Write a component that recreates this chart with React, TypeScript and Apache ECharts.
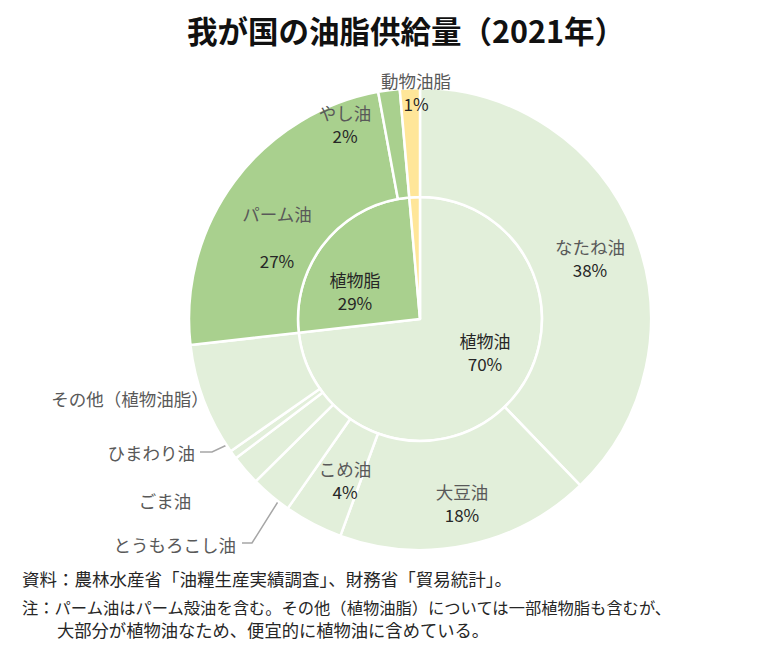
import React, { useEffect, useRef } from "react";
import * as echarts from "echarts";

const chartTitle = "我が国の油脂供給量（2021年）";

const innerNames = ["植物油", "植物脂", "動物油脂"];
const innerValues = [73.2, 25.4, 1.4];
const innerPctLabels = ["70%", "29%", ""];

const outerNames = [
  "なたね油",
  "大豆油",
  "こめ油",
  "とうもろこし油",
  "ごま油",
  "ひまわり油",
  "その他（植物油脂）",
  "パーム油",
  "やし油",
  "動物油脂",
];
const outerValues = [37.8, 17.8, 4.1, 2.9, 2.1, 0.6, 7.9, 23.9, 1.5, 1.4];
const outerPctLabels = ["38%", "18%", "4%", "", "", "", "", "27%", "2%", "1%"];

const noteLines = [
  "資料：農林水産省「油糧生産実績調査」、財務省「貿易統計」。",
  "注：パーム油はパーム殻油を含む。その他（植物油脂）については一部植物脂も含むが、",
  "大部分が植物油なため、便宜的に植物油に含めている。",
];

const LIGHT = "#E2EFDA";
const MID = "#A9D08E";
const YELLOW = "#FFE699";
const outerColors = [LIGHT, LIGHT, LIGHT, LIGHT, LIGHT, LIGHT, LIGHT, MID, MID, YELLOW];
const innerColors = [LIGHT, MID, YELLOW];

const FONT = "'Noto Sans CJK JP', 'Noto Sans', sans-serif";

// label placement (layout only)
const outerLabelLayout: Record<number, any> = {
  0: { x: 590, y: 258, align: "center" },
  1: { x: 462, y: 503, align: "center" },
  2: { x: 345, y: 480, align: "center" },
  3: { x: 236, y: 544, align: "right", line: [[308, 454], [252, 543], [242, 543]] },
  4: { x: 165, y: 500, align: "center" },
  5: { x: 195, y: 452, align: "right", line: [[278, 421], [212, 452], [200, 452]] },
  6: { x: 130, y: 398, align: "center" },
  7: { x: 277, y: 237, align: "center" },
  8: { x: 345, y: 124, align: "center", line: [[398, 146], [387, 113], [377, 113]] },
  9: { x: 416, y: 92, align: "center" },
};
const innerLabelLayout: Record<number, any> = {
  0: { x: 485, y: 352, align: "center" },
  1: { x: 355, y: 291, align: "center" },
};
const outsideIdx = [3, 4, 5, 6, 8, 9];
const lineIdx = [3, 5, 8];

export default function App() {
  const ref = useRef<HTMLDivElement>(null);
  useEffect(() => {
    document.body.style.margin = "0";
    if (!ref.current) return;
    const chart = echarts.init(ref.current, undefined, { renderer: "svg" });

    const outerData = outerNames.map((name, i) => ({
      name,
      value: outerValues[i],
      itemStyle: { color: outerColors[i] },
      label: { position: outsideIdx.includes(i) ? "outside" : "inside" },
      labelLine: {
        show: lineIdx.includes(i),
        lineStyle: { color: "#A6A6A6", width: 1.5 },
      },
    }));
    const innerData = innerNames.map((name, i) => ({
      name,
      value: innerValues[i],
      itemStyle: { color: innerColors[i] },
      label: { show: innerPctLabels[i] !== "" },
    }));

    const rich = {
      n: { fontFamily: FONT, fontSize: 17.5, color: "#595959", lineHeight: 23 },
      p: { fontFamily: FONT, fontSize: 17, color: "#262626", lineHeight: 24 },
      d: { fontFamily: FONT, fontSize: 17, color: "#262626", lineHeight: 23 },
      e: { fontFamily: FONT, fontSize: 17, color: "#262626", lineHeight: 23 },
      g: { fontSize: 17, lineHeight: 23 },
    };

    chart.setOption({
      animation: false,
      title: {
        text: chartTitle,
        left: 182,
        top: 10,
        textStyle: { fontFamily: FONT, fontSize: 30.5, fontWeight: "bold", color: "#111" },
      },
      series: [
        {
          type: "pie",
          name: "inner",
          center: [420, 319],
          radius: [0, 122],
          startAngle: 90,
          clockwise: true,
          avoidLabelOverlap: false,
          silent: true,
          itemStyle: { borderColor: "#fff", borderWidth: 2.5 },
          label: {
            position: "inside",
            formatter: (p: any) => `{d|${p.name}}\n{e|${innerPctLabels[p.dataIndex]}}`,
            rich,
          },
          labelLine: { show: false },
          labelLayout: (p: any) => {
            const l = innerLabelLayout[p.dataIndex];
            if (!l) return {};
            return { x: l.x, y: l.y, align: l.align, verticalAlign: "middle" };
          },
          data: innerData,
        },
        {
          type: "pie",
          name: "outer",
          center: [420, 319],
          radius: [122, 231],
          startAngle: 90,
          clockwise: true,
          avoidLabelOverlap: false,
          silent: true,
          itemStyle: { borderColor: "#fff", borderWidth: 2.5 },
          label: {
            formatter: (p: any) => {
              const pct = outerPctLabels[p.dataIndex];
              if (!pct) return `{n|${p.name}}`;
              if (p.dataIndex === 7) return `{n|${p.name}}\n{g| }\n{p|${pct}}`;
              return `{n|${p.name}}\n{p|${pct}}`;
            },
            rich,
          },
          labelLayout: (p: any) => {
            const l = outerLabelLayout[p.dataIndex];
            if (!l) return {};
            const o: any = { x: l.x, y: l.y, align: l.align, verticalAlign: "middle" };
            if (l.line) o.labelLinePoints = l.line;
            return o;
          },
          data: outerData,
        },
      ],
      graphic: [
        {
          type: "text",
          left: 22,
          top: 570,
          style: { text: noteLines[0], font: `17.5px ${FONT}`, fill: "#262626" },
        },
        {
          type: "text",
          left: 22,
          top: 599,
          style: { text: noteLines[1], font: `16.3px ${FONT}`, fill: "#262626" },
        },
        {
          type: "text",
          left: 57,
          top: 621,
          style: { text: noteLines[2], font: `17.3px ${FONT}`, fill: "#262626" },
        },
      ],
    });
    return () => chart.dispose();
  }, []);
  return <div ref={ref} style={{ width: 760, height: 648 }} />;
}
